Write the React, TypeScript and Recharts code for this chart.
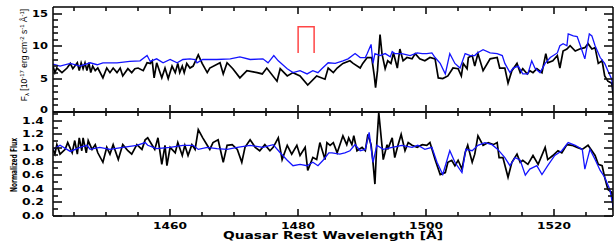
import { LineChart, Line, XAxis, YAxis } from 'recharts';

const wlDomain: [number, number] = [1441.7, 1529.2];
const xMajorTicks = [1460, 1480, 1500, 1520];
const xMinorTicks = [1445, 1450, 1455, 1465, 1470, 1475, 1485, 1490, 1495, 1505, 1510, 1515, 1525];

const fluxDomain: [number, number] = [0, 16];
const fluxMajorTicks = [0, 5, 10, 15];
const fluxMinorTicks = [1, 2, 3, 4, 6, 7, 8, 9, 11, 12, 13, 14];
const normDomain: [number, number] = [0, 1.53];
const normMajorTicks = [0, 0.2, 0.4, 0.6, 0.8, 1.0, 1.2, 1.4];
const normMinorTicks = [0.1, 0.3, 0.5, 0.7, 0.9, 1.1, 1.3, 1.5];

// [wavelength, flux]
const quasarFlux: [number, number][] = [
  [1441.7, 7.0], [1442.0, 6.0], [1442.3, 6.7], [1443.1, 6.0], [1443.9, 6.7], [1444.4, 7.4], [1444.8, 6.6],
  [1445.5, 7.5], [1445.8, 6.3], [1446.1, 7.5], [1446.4, 6.6], [1446.7, 7.5], [1447.0, 6.3], [1447.3, 7.5],
  [1447.6, 6.0], [1447.9, 7.0], [1448.3, 6.3], [1448.7, 6.7], [1449.5, 5.2], [1450.1, 6.7], [1450.6, 6.0],
  [1451.1, 6.7], [1451.7, 6.0], [1452.2, 6.7], [1452.6, 5.5], [1453.4, 6.6], [1454.0, 6.0], [1454.5, 6.6],
  [1455.0, 6.7], [1455.8, 6.3], [1456.4, 7.5], [1456.9, 7.4], [1457.2, 7.8], [1457.5, 5.2], [1457.9, 7.5],
  [1458.7, 5.2], [1459.2, 6.7], [1459.7, 5.1], [1460.3, 7.0], [1460.8, 6.0], [1461.2, 7.4], [1461.5, 6.0],
  [1461.9, 7.0], [1462.2, 6.0], [1462.6, 7.4], [1463.1, 6.7], [1463.6, 7.0], [1464.4, 8.7], [1465.0, 7.4],
  [1465.8, 6.0], [1466.2, 6.7], [1467.8, 7.5], [1468.3, 5.8], [1468.9, 7.5], [1469.8, 6.6], [1470.9, 5.2],
  [1472.0, 6.3], [1473.6, 6.0], [1474.4, 5.8], [1475.1, 6.7], [1476.7, 4.7], [1477.2, 6.6], [1478.3, 5.5],
  [1479.2, 6.0], [1480.3, 5.5], [1481.5, 4.1], [1482.9, 5.5], [1484.2, 5.0], [1484.7, 6.7], [1485.5, 6.0],
  [1486.1, 6.7], [1487.0, 7.4], [1488.1, 7.8], [1488.6, 7.4], [1489.7, 6.7], [1490.1, 7.4], [1490.8, 8.3],
  [1491.5, 8.3], [1491.9, 5.5], [1492.1, 3.7], [1492.4, 6.3], [1492.8, 11.8], [1493.1, 8.9], [1493.6, 6.6],
  [1494.0, 7.8], [1494.5, 7.4], [1494.9, 9.0], [1495.5, 6.7], [1495.9, 9.6], [1496.4, 7.8], [1497.0, 8.3],
  [1497.8, 8.1], [1498.3, 8.9], [1499.0, 8.1], [1499.8, 7.8], [1500.6, 8.3], [1501.4, 8.1], [1501.9, 5.2],
  [1502.6, 5.1], [1503.4, 5.5], [1504.2, 6.7], [1505.0, 6.6], [1505.5, 5.5], [1505.8, 7.4], [1506.4, 6.6],
  [1506.6, 8.3], [1507.2, 8.6], [1507.6, 7.0], [1508.1, 8.9], [1508.9, 6.3], [1510.0, 8.1], [1511.1, 8.3],
  [1511.5, 6.7], [1512.3, 6.7], [1512.8, 4.4], [1513.4, 6.3], [1514.2, 7.4], [1514.7, 6.0], [1515.1, 6.6],
  [1515.8, 5.8], [1516.2, 6.3], [1516.7, 6.0], [1517.3, 6.6], [1518.1, 6.0], [1518.7, 8.9], [1519.0, 7.5],
  [1519.8, 7.8], [1520.5, 8.6], [1520.9, 6.7], [1521.4, 9.3], [1522.0, 9.6], [1522.5, 10.1], [1523.3, 9.3],
  [1524.0, 9.6], [1524.8, 9.8], [1525.3, 10.4], [1525.9, 9.6], [1526.4, 9.8], [1526.9, 7.4], [1527.5, 7.8],
  [1527.9, 5.5], [1528.4, 4.7], [1529.0, 4.4], [1529.3, 2.1],
];

const modelFlux: [number, number][] = [
  [1441.7, 7.3], [1442.8, 7.0], [1444.4, 7.4], [1445.9, 7.0], [1447.5, 7.5], [1448.6, 7.2], [1449.5, 7.5],
  [1451.7, 7.5], [1453.7, 7.7], [1455.3, 7.8], [1456.4, 8.6], [1456.9, 7.7], [1457.9, 8.1], [1458.9, 7.5],
  [1460.0, 8.0], [1461.1, 7.5], [1462.0, 8.0], [1463.1, 8.1], [1463.9, 8.0], [1464.2, 7.5], [1465.1, 8.0],
  [1467.3, 8.0], [1469.4, 8.1], [1470.9, 8.4], [1472.5, 8.0], [1474.5, 8.1], [1475.3, 7.5], [1476.2, 8.6],
  [1476.9, 7.8], [1478.3, 6.6], [1479.2, 6.0], [1480.3, 6.3], [1481.4, 5.8], [1482.3, 6.3], [1483.1, 6.0],
  [1483.7, 6.6], [1484.7, 7.5], [1485.8, 7.4], [1487.0, 7.8], [1487.8, 8.1], [1488.9, 8.9], [1489.7, 8.3],
  [1490.5, 8.3], [1490.8, 8.9], [1491.4, 10.3], [1491.7, 7.4], [1492.0, 8.9], [1492.8, 8.6], [1493.6, 8.9],
  [1494.4, 8.4], [1494.7, 9.2], [1495.1, 8.9], [1496.2, 8.9], [1497.5, 8.6], [1498.6, 9.0], [1499.4, 8.9],
  [1500.1, 8.9], [1500.9, 9.0], [1501.4, 8.3], [1502.2, 7.4], [1503.0, 5.8], [1503.7, 8.9], [1504.5, 7.4],
  [1505.3, 6.7], [1506.1, 8.9], [1506.9, 8.6], [1507.6, 8.6], [1508.0, 9.0], [1508.9, 9.5], [1510.0, 9.0],
  [1511.1, 8.9], [1511.9, 8.6], [1512.3, 7.4], [1513.1, 6.0], [1513.6, 6.7], [1514.4, 7.0], [1515.1, 5.8],
  [1515.9, 5.8], [1516.5, 7.8], [1517.0, 6.7], [1517.8, 6.0], [1518.6, 7.4], [1519.4, 8.3], [1520.5, 9.0],
  [1520.9, 10.1], [1521.4, 10.4], [1522.0, 10.1], [1522.2, 11.9], [1523.0, 11.6], [1523.6, 11.5], [1524.0, 10.4],
  [1524.8, 8.1], [1525.5, 11.9], [1525.9, 11.6], [1526.4, 10.1], [1527.2, 8.3], [1527.9, 7.4], [1528.4, 6.3],
  [1529.0, 5.0], [1529.3, 2.9],
];

const quasarNorm: [number, number][] = [
  [1441.7, 0.98], [1442.0, 0.91], [1442.3, 1.05], [1442.8, 0.91], [1443.6, 0.98], [1444.0, 1.08], [1444.7, 0.93],
  [1445.1, 1.11], [1445.5, 0.91], [1445.8, 1.15], [1446.2, 0.96], [1446.4, 1.15], [1446.9, 0.93], [1447.2, 1.11],
  [1447.8, 0.98], [1448.3, 1.05], [1448.7, 0.93], [1449.5, 0.79], [1450.1, 1.01], [1450.6, 0.91], [1451.1, 1.05],
  [1451.9, 0.83], [1452.6, 1.05], [1453.4, 0.96], [1454.0, 0.91], [1454.8, 1.05], [1455.6, 0.98], [1456.1, 1.12],
  [1456.5, 1.15], [1457.2, 1.04], [1457.6, 0.98], [1458.1, 1.15], [1458.7, 0.76], [1459.2, 1.04], [1459.5, 0.74],
  [1460.0, 1.01], [1460.8, 0.93], [1461.2, 1.08], [1461.9, 0.89], [1462.3, 1.04], [1462.8, 0.89], [1463.4, 1.05],
  [1463.9, 0.98], [1464.4, 1.27], [1465.1, 1.15], [1465.8, 1.04], [1466.2, 0.98], [1466.7, 1.08], [1467.5, 1.12],
  [1468.3, 0.79], [1468.9, 1.04], [1469.7, 1.05], [1470.5, 0.98], [1471.2, 0.79], [1471.7, 1.01], [1472.5, 1.12],
  [1473.3, 1.01], [1474.0, 0.96], [1474.8, 1.05], [1475.6, 0.96], [1476.1, 1.01], [1476.9, 1.15], [1477.5, 0.83],
  [1478.3, 1.04], [1479.0, 0.91], [1479.8, 1.04], [1480.3, 0.89], [1481.1, 1.01], [1481.5, 0.67], [1482.3, 0.86],
  [1482.9, 0.83], [1483.4, 1.08], [1484.2, 0.83], [1484.5, 1.08], [1485.0, 1.04], [1485.5, 1.08], [1486.1, 0.93],
  [1486.5, 1.04], [1487.0, 1.18], [1487.6, 1.05], [1487.9, 1.15], [1488.4, 1.05], [1488.7, 1.18], [1489.2, 0.96],
  [1490.0, 1.01], [1490.5, 0.96], [1490.9, 1.2], [1491.4, 1.05], [1491.7, 0.79], [1492.0, 0.47], [1492.3, 1.08],
  [1492.6, 1.52], [1493.1, 1.04], [1493.3, 0.83], [1493.9, 1.05], [1494.0, 0.98], [1494.7, 1.15], [1495.1, 0.86],
  [1495.6, 1.04], [1496.1, 1.2], [1496.7, 0.96], [1497.2, 1.08], [1497.8, 1.04], [1498.6, 1.01], [1499.4, 1.05],
  [1500.1, 1.04], [1500.6, 1.08], [1501.4, 0.83], [1502.2, 0.61], [1503.0, 0.64], [1503.4, 0.79], [1504.0, 0.82],
  [1504.5, 0.74], [1505.0, 0.82], [1505.6, 0.69], [1506.1, 0.93], [1506.5, 1.04], [1507.2, 0.79], [1507.6, 0.91],
  [1508.1, 1.18], [1508.9, 1.04], [1509.7, 1.08], [1510.5, 1.05], [1511.1, 1.08], [1511.4, 0.86], [1512.0, 0.86],
  [1512.8, 0.57], [1513.4, 0.79], [1514.2, 0.91], [1514.7, 0.79], [1515.1, 0.82], [1515.9, 0.76], [1516.7, 0.89],
  [1517.5, 0.76], [1518.6, 1.01], [1519.0, 0.83], [1519.8, 0.89], [1520.6, 0.96], [1521.2, 0.93], [1522.0, 1.05],
  [1522.8, 1.04], [1523.6, 1.01], [1524.4, 0.98], [1525.3, 1.04], [1525.9, 0.96], [1526.4, 0.89], [1526.9, 0.76],
  [1527.5, 0.74], [1527.9, 0.57], [1528.4, 0.39], [1529.0, 0.35], [1529.3, 0.06],
];

const modelNorm: [number, number][] = [
  [1441.7, 0.98], [1442.8, 1.04], [1444.4, 0.95], [1445.9, 1.01], [1447.0, 1.04], [1447.5, 0.98], [1449.0, 1.01],
  [1450.6, 0.98], [1452.6, 1.01], [1454.8, 1.04], [1456.1, 1.08], [1456.5, 1.04], [1457.9, 0.99], [1460.0, 1.01],
  [1462.0, 1.04], [1463.6, 1.04], [1464.4, 0.98], [1465.8, 1.01], [1467.3, 0.99], [1468.9, 0.98], [1470.5, 1.01],
  [1472.5, 1.04], [1474.5, 1.01], [1476.1, 1.05], [1477.2, 0.93], [1478.3, 0.82], [1479.2, 0.74], [1480.3, 0.76],
  [1481.4, 0.74], [1482.3, 0.79], [1483.1, 0.74], [1483.9, 0.82], [1484.8, 0.93], [1485.3, 0.93], [1486.5, 0.91],
  [1487.3, 0.93], [1488.1, 0.96], [1488.9, 1.05], [1489.7, 0.96], [1490.5, 0.98], [1491.1, 1.23], [1491.7, 0.79],
  [1492.3, 1.04], [1493.3, 0.98], [1494.7, 1.01], [1496.2, 1.04], [1497.8, 1.01], [1498.7, 1.04], [1499.8, 0.98],
  [1500.9, 1.01], [1501.7, 0.79], [1502.6, 0.61], [1503.7, 0.96], [1504.5, 0.79], [1505.6, 0.64], [1506.2, 0.98],
  [1507.2, 0.96], [1508.1, 1.04], [1509.2, 1.08], [1510.3, 1.05], [1511.2, 0.98], [1512.3, 0.86], [1513.1, 0.74],
  [1513.9, 0.86], [1514.7, 0.82], [1515.5, 0.6], [1516.2, 0.69], [1517.3, 0.74], [1518.1, 0.61], [1519.0, 0.74],
  [1520.1, 0.89], [1521.2, 0.96], [1522.2, 1.08], [1523.3, 1.04], [1524.4, 0.98], [1524.8, 0.69], [1525.6, 0.98],
  [1526.4, 0.83], [1527.2, 0.67], [1527.9, 0.57], [1528.7, 0.39], [1529.3, 0.1],
];

// red marker bracket over the absorption dip
const bracket: [number, number][] = [[1480, 9], [1480, 13], [1482.5, 13], [1482.5, 9]];

const toPoints = (pairs: [number, number][]) => pairs.map(([w, f]) => ({ w, f }));

const FONT = '"DejaVu Sans", Verdana, sans-serif';
const labelWidth = (s: string) => s.split('').reduce((acc, c) => acc + (c === '.' ? 6 : 8), 0);

// plot boxes of the two panels (page pixels), set by the chart sizes and margins below
const PLOT_L = 53;
const PLOT_R = 613;
const TOP_BOX = { top: 7, bottom: 112 };
const BOT_BOX = { top: 112, bottom: 216 };

const noLabel = () => <g />;

const xLabel = (props: any) => {
  const { x, y, payload } = props;
  const txt = String(payload.value);
  return (
    <text x={x} y={y + 13} textAnchor="middle" fontFamily={FONT} fontWeight="bold" fontSize={8.5}
      textLength={labelWidth(txt) + 2} lengthAdjust="spacingAndGlyphs" fill="#000">
      {txt}
    </text>
  );
};

const yLabel = (fmt: (v: number) => string, gap: number) => (props: any) => {
  const { x, y, payload } = props;
  const txt = fmt(payload.value);
  return (
    <text x={x - gap} y={y + 3} textAnchor="end" fontFamily={FONT} fontWeight="bold" fontSize={8.5}
      textLength={labelWidth(txt)} lengthAdjust="spacingAndGlyphs" fill="#000">
      {txt}
    </text>
  );
};

const axisLine = { stroke: '#000', strokeWidth: 1.5 };

function axes(yDomain: [number, number], yLabelTicks: number[], fmt: (v: number) => string, gap: number, xLabels: boolean) {
  return [
    <XAxis key="b" xAxisId="b" dataKey="w" type="number" domain={wlDomain} allowDataOverflow orientation="bottom"
      height={1} ticks={xMajorTicks} interval={0} tickSize={0} tickMargin={0} tickLine={false}
      axisLine={axisLine} tick={xLabels ? xLabel : noLabel} />,
    <XAxis key="t" xAxisId="t" dataKey="w" type="number" domain={wlDomain} allowDataOverflow orientation="top"
      height={1} ticks={xMajorTicks} interval={0} tickSize={0} tickMargin={0} tickLine={false}
      axisLine={axisLine} tick={noLabel} />,
    <YAxis key="l" yAxisId="l" type="number" domain={yDomain} allowDataOverflow width={53}
      ticks={yLabelTicks} interval={0} tickSize={0} tickMargin={0} tickLine={false} axisLine={axisLine}
      tick={yLabel(fmt, gap)} />,
    <YAxis key="r" yAxisId="r" orientation="right" type="number" domain={yDomain} allowDataOverflow
      width={1} ticks={yLabelTicks} interval={0} tickSize={0} tickMargin={0} tickLine={false} axisLine={axisLine}
      tick={noLabel} />,
  ];
}

// inward tick marks on all four sides of a panel frame
function FrameTicks({ box, domain, majors, minors }: {
  box: { top: number; bottom: number }; domain: [number, number]; majors: number[]; minors: number[];
}) {
  const px = (w: number) =>
    Math.round(PLOT_L + ((w - wlDomain[0]) / (wlDomain[1] - wlDomain[0])) * (PLOT_R - PLOT_L));
  const py = (v: number) =>
    Math.round(box.bottom - ((v - domain[0]) / (domain[1] - domain[0])) * (box.bottom - box.top));
  const marks: { x1: number; y1: number; x2: number; y2: number }[] = [];
  xMajorTicks.forEach((w) => {
    marks.push({ x1: px(w), y1: box.bottom, x2: px(w), y2: box.bottom - 7 });
    marks.push({ x1: px(w), y1: box.top, x2: px(w), y2: box.top + 7 });
  });
  xMinorTicks.forEach((w) => {
    marks.push({ x1: px(w), y1: box.bottom, x2: px(w), y2: box.bottom - 4 });
    marks.push({ x1: px(w), y1: box.top, x2: px(w), y2: box.top + 4 });
  });
  majors.forEach((v) => {
    marks.push({ x1: PLOT_L, y1: py(v), x2: PLOT_L + 9, y2: py(v) });
    marks.push({ x1: PLOT_R, y1: py(v), x2: PLOT_R - 9, y2: py(v) });
  });
  minors.forEach((v) => {
    marks.push({ x1: PLOT_L, y1: py(v), x2: PLOT_L + 5, y2: py(v) });
    marks.push({ x1: PLOT_R, y1: py(v), x2: PLOT_R - 5, y2: py(v) });
  });
  return (
    <g>
      {marks.map((m, i) => (
        <line key={i} x1={m.x1} y1={m.y1} x2={m.x2} y2={m.y2} stroke="#111" strokeWidth={1.6} />
      ))}
    </g>
  );
}

export default function App() {
  return (
    <div style={{ position: 'absolute', left: 0, top: 0, width: 614, height: 243, background: '#fff', overflow: 'hidden' }}>
      <div style={{ position: 'absolute', left: 0, top: 0 }}>
        <LineChart width={614} height={118} margin={{ top: 6, right: 0, bottom: 5, left: 0 }}>
          {axes(fluxDomain, fluxMajorTicks.filter((v) => v > 0), (v) => String(v), 5, false)}
          <Line xAxisId="b" yAxisId="l" data={toPoints(quasarFlux)} dataKey="f" type="linear" stroke="#000"
            strokeWidth={1.7} dot={false} isAnimationActive={false} />
          <Line xAxisId="b" yAxisId="l" data={toPoints(modelFlux)} dataKey="f" type="linear" stroke="#1414ff"
            strokeWidth={1.3} dot={false} isAnimationActive={false} />
          <Line xAxisId="b" yAxisId="l" data={toPoints(bracket)} dataKey="f" type="linear" stroke="#ff4646"
            strokeWidth={1.5} dot={false} isAnimationActive={false} />
        </LineChart>
      </div>
      <div style={{ position: 'absolute', left: 0, top: 111 }}>
        <LineChart width={614} height={132} margin={{ top: 0, right: 0, bottom: 26, left: 0 }}>
          {axes(normDomain, normMajorTicks, (v) => v.toFixed(1), 9, true)}
          <Line xAxisId="b" yAxisId="l" data={toPoints(quasarNorm)} dataKey="f" type="linear" stroke="#000"
            strokeWidth={1.7} dot={false} isAnimationActive={false} />
          <Line xAxisId="b" yAxisId="l" data={toPoints(modelNorm)} dataKey="f" type="linear" stroke="#1414ff"
            strokeWidth={1.3} dot={false} isAnimationActive={false} />
        </LineChart>
      </div>
      <svg width={614} height={243} style={{ position: 'absolute', left: 0, top: 0, pointerEvents: 'none' }}>
        <FrameTicks box={TOP_BOX} domain={fluxDomain} majors={fluxMajorTicks} minors={fluxMinorTicks} />
        <FrameTicks box={BOT_BOX} domain={normDomain} majors={normMajorTicks} minors={normMinorTicks} />
        <text x={PLOT_L - 5} y={TOP_BOX.bottom + 1} textAnchor="end" fontFamily={FONT} fontWeight="bold"
          fontSize={8.5} textLength={8} lengthAdjust="spacingAndGlyphs" fill="#000">
          0
        </text>
        <text x={333} y={239} textAnchor="middle" fontFamily={FONT} fontWeight="bold" fontSize={10}
          textLength={220} lengthAdjust="spacingAndGlyphs" fill="#000">
          Quasar Rest Wavelength [Å]
        </text>
        <text transform="translate(27,55) rotate(-90)" textAnchor="middle" fontFamily='"Liberation Sans", Arial, sans-serif'
          fontSize={8.5} fill="#000">
          F<tspan dy={2} fontSize={6}>λ</tspan>
          <tspan dy={-2}> [10</tspan>
          <tspan dy={-3.5} fontSize={6}>-17</tspan>
          <tspan dy={3.5}> erg cm</tspan>
          <tspan dy={-3.5} fontSize={6}>-2</tspan>
          <tspan dy={3.5}> s</tspan>
          <tspan dy={-3.5} fontSize={6}>-1</tspan>
          <tspan dy={3.5}> Å</tspan>
          <tspan dy={-3.5} fontSize={6}>-1</tspan>
          <tspan dy={3.5}>]</tspan>
        </text>
        <text transform="translate(17,165) rotate(-90)" textAnchor="middle" fontFamily={FONT} fontWeight="bold"
          fontSize={8.5} textLength={54} lengthAdjust="spacingAndGlyphs" fill="#000">
          Normalized Flux
        </text>
      </svg>
    </div>
  );
}
